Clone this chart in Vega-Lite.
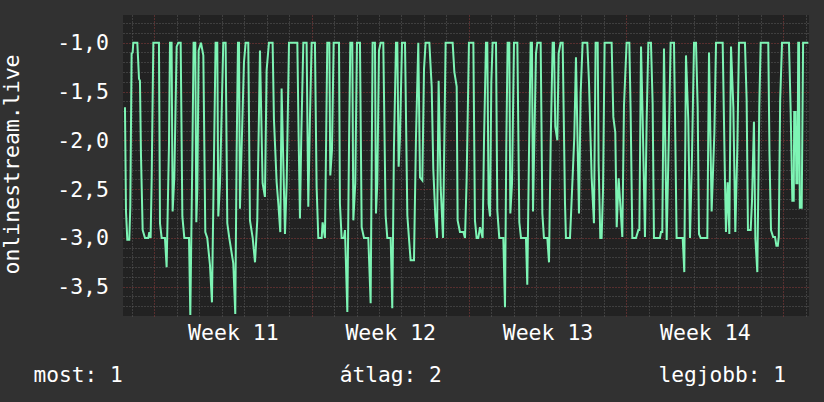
{
"$schema": "https://vega.github.io/schema/vega-lite/v6.json",
"width": 686,
"height": 301,
"autosize": {"type": "none"},
"padding": {"left": 123, "top": 15, "right": 15, "bottom": 86},
"background": "#313131",
"config": {
  "view": {"fill": "#222222", "stroke": null},
  "axis": {"labelFont": "DejaVu Sans Mono", "titleFont": "DejaVu Sans Mono", "labelColor": "#ffffff", "titleColor": "#ffffff", "labelFontSize": 21.5, "titleFontSize": 21.5, "titleFontWeight": "normal", "domain": false, "ticks": false, "tickSize": 0}
},
"data": {"values": [
{"hour":-31.3,"value":-1.66},{"hour":-30.2,"value":-2.73},{"hour":-28.8,"value":-3.02},{"hour":-26.7,"value":-3.02},{"hour":-25.6,"value":-2.68},{"hour":-24.2,"value":-1.11},{"hour":-23.1,"value":-1.10},{"hour":-22.4,"value":-1.0},{"hour":-18.1,"value":-1.0},{"hour":-16.3,"value":-1.37},{"hour":-15.3,"value":-1.39},{"hour":-14.2,"value":-2.15},{"hour":-12.4,"value":-2.92},{"hour":-9.9,"value":-3.0},{"hour":-6.4,"value":-3.0},{"hour":-5.3,"value":-2.94},{"hour":-3.9,"value":-3.0},{"hour":-2.8,"value":-2.41},{"hour":-1.0,"value":-1.0},{"hour":5.0,"value":-1.0},{"hour":6.1,"value":-2.85},{"hour":7.9,"value":-3.0},{"hour":11.4,"value":-3.0},{"hour":13.2,"value":-3.30},{"hour":15.7,"value":-2.05},{"hour":16.8,"value":-1.0},{"hour":18.5,"value":-1.0},{"hour":19.6,"value":-2.73},{"hour":21.4,"value":-2.38},{"hour":23.9,"value":-1.04},{"hour":25.7,"value":-1.0},{"hour":28.2,"value":-1.0},{"hour":30.0,"value":-2.78},{"hour":32.1,"value":-3.0},{"hour":37.1,"value":-3.0},{"hour":38.5,"value":-3.79},{"hour":40.6,"value":-2.22},{"hour":42.0,"value":-1.0},{"hour":43.8,"value":-1.0},{"hour":44.9,"value":-2.84},{"hour":46.0,"value":-2.50},{"hour":47.4,"value":-1.08},{"hour":49.9,"value":-1.0},{"hour":52.4,"value":-1.13},{"hour":54.5,"value":-2.94},{"hour":56.6,"value":-3.0},{"hour":59.5,"value":-3.28},{"hour":61.6,"value":-3.66},{"hour":63.4,"value":-2.43},{"hour":65.5,"value":-1.0},{"hour":67.3,"value":-1.0},{"hour":68.4,"value":-2.78},{"hour":70.2,"value":-2.44},{"hour":73.7,"value":-1.0},{"hour":76.2,"value":-1.0},{"hour":78.0,"value":-2.85},{"hour":80.1,"value":-3.0},{"hour":84.4,"value":-3.26},{"hour":86.5,"value":-3.78},{"hour":88.0,"value":-2.10},{"hour":89.4,"value":-1.0},{"hour":90.5,"value":-1.0},{"hour":91.5,"value":-2.70},{"hour":95.8,"value":-1.20},{"hour":97.6,"value":-1.0},{"hour":100.4,"value":-1.0},{"hour":102.2,"value":-2.82},{"hour":105.1,"value":-3.0},{"hour":107.6,"value":-3.25},{"hour":110.0,"value":-2.82},{"hour":112.9,"value":-1.08},{"hour":115.7,"value":-2.44},{"hour":118.2,"value":-2.58},{"hour":120.0,"value":-1.28},{"hour":122.5,"value":-1.0},{"hour":126.4,"value":-1.0},{"hour":127.8,"value":-1.78},{"hour":130.7,"value":-2.43},{"hour":132.5,"value":-2.65},{"hour":134.6,"value":-2.94},{"hour":136.0,"value":-1.47},{"hour":139.6,"value":-2.96},{"hour":141.4,"value":-2.44},{"hour":143.9,"value":-1.0},{"hour":152.8,"value":-1.0},{"hour":154.2,"value":-1.97},{"hour":155.6,"value":-2.80},{"hour":157.0,"value":-1.97},{"hour":159.2,"value":-1.0},{"hour":162.7,"value":-1.0},{"hour":164.5,"value":-2.68},{"hour":166.3,"value":-1.76},{"hour":168.1,"value":-1.0},{"hour":171.6,"value":-1.0},{"hour":173.4,"value":-2.48},{"hour":175.2,"value":-3.0},{"hour":178.8,"value":-3.0},{"hour":179.8,"value":-2.84},{"hour":182.3,"value":-3.0},{"hour":184.8,"value":-1.0},{"hour":187.0,"value":-1.0},{"hour":188.0,"value":-2.36},{"hour":189.8,"value":-2.10},{"hour":191.6,"value":-1.0},{"hour":197.3,"value":-1.0},{"hour":198.3,"value":-2.65},{"hour":200.1,"value":-3.0},{"hour":202.6,"value":-3.0},{"hour":203.7,"value":-2.92},{"hour":206.2,"value":-3.76},{"hour":208.0,"value":-2.05},{"hour":209.4,"value":-1.0},{"hour":211.5,"value":-1.0},{"hour":212.6,"value":-2.82},{"hour":214.7,"value":-2.44},{"hour":216.5,"value":-1.0},{"hour":219.7,"value":-1.0},{"hour":221.5,"value":-2.89},{"hour":224.0,"value":-3.0},{"hour":228.6,"value":-3.0},{"hour":231.1,"value":-3.67},{"hour":233.2,"value":-1.0},{"hour":235.7,"value":-1.0},{"hour":236.8,"value":-2.75},{"hour":238.2,"value":-2.44},{"hour":240.0,"value":-1.08},{"hour":241.8,"value":-1.0},{"hour":244.6,"value":-1.0},{"hour":247.1,"value":-2.77},{"hour":248.9,"value":-3.0},{"hour":252.5,"value":-3.0},{"hour":254.2,"value":-3.72},{"hour":256.0,"value":-2.07},{"hour":258.2,"value":-1.0},{"hour":259.6,"value":-1.0},{"hour":261.0,"value":-2.27},{"hour":262.4,"value":-1.98},{"hour":264.6,"value":-1.0},{"hour":267.8,"value":-1.0},{"hour":270.3,"value":-2.77},{"hour":272.0,"value":-3.0},{"hour":273.8,"value":-3.23},{"hour":277.4,"value":-3.23},{"hour":279.5,"value":-1.98},{"hour":282.0,"value":-1.0},{"hour":283.8,"value":-2.38},{"hour":286.3,"value":-2.41},{"hour":288.1,"value":-1.27},{"hour":289.8,"value":-1.0},{"hour":293.8,"value":-1.0},{"hour":296.3,"value":-1.45},{"hour":298.0,"value":-2.29},{"hour":300.2,"value":-2.78},{"hour":302.0,"value":-3.0},{"hour":303.7,"value":-1.39},{"hour":305.9,"value":-2.48},{"hour":308.4,"value":-3.0},{"hour":311.2,"value":-1.0},{"hour":318.7,"value":-1.0},{"hour":320.5,"value":-1.30},{"hour":323.0,"value":-1.45},{"hour":324.0,"value":-2.82},{"hour":326.5,"value":-2.94},{"hour":330.1,"value":-2.94},{"hour":331.9,"value":-3.0},{"hour":333.6,"value":-2.41},{"hour":336.1,"value":-1.0},{"hour":340.8,"value":-1.0},{"hour":342.5,"value":-2.82},{"hour":344.3,"value":-3.0},{"hour":346.1,"value":-3.0},{"hour":347.9,"value":-2.89},{"hour":350.7,"value":-3.0},{"hour":352.2,"value":-2.0},{"hour":354.3,"value":-1.0},{"hour":355.7,"value":-1.0},{"hour":357.1,"value":-2.65},{"hour":358.6,"value":-2.78},{"hour":360.0,"value":-1.40},{"hour":361.4,"value":-1.0},{"hour":365.0,"value":-1.0},{"hour":366.4,"value":-2.72},{"hour":368.5,"value":-3.0},{"hour":372.8,"value":-3.0},{"hour":374.6,"value":-3.71},{"hour":376.0,"value":-2.05},{"hour":377.4,"value":-1.0},{"hour":379.2,"value":-1.0},{"hour":380.3,"value":-2.75},{"hour":382.1,"value":-2.44},{"hour":384.2,"value":-1.0},{"hour":387.8,"value":-1.0},{"hour":389.9,"value":-2.84},{"hour":391.7,"value":-3.0},{"hour":397.0,"value":-3.0},{"hour":398.4,"value":-3.48},{"hour":400.2,"value":-2.15},{"hour":402.0,"value":-1.0},{"hour":403.4,"value":-1.0},{"hour":404.5,"value":-2.73},{"hour":407.7,"value":-1.11},{"hour":409.1,"value":-1.0},{"hour":412.7,"value":-1.0},{"hour":414.5,"value":-2.75},{"hour":416.2,"value":-3.0},{"hour":419.8,"value":-3.0},{"hour":421.6,"value":-3.25},{"hour":423.4,"value":-2.02},{"hour":425.5,"value":-1.0},{"hour":426.9,"value":-1.0},{"hour":428.3,"value":-1.86},{"hour":430.5,"value":-2.0},{"hour":431.9,"value":-1.11},{"hour":434.0,"value":-1.0},{"hour":436.2,"value":-1.0},{"hour":438.7,"value":-2.65},{"hour":439.7,"value":-3.0},{"hour":444.0,"value":-3.0},{"hour":445.4,"value":-2.70},{"hour":448.6,"value":-1.97},{"hour":450.4,"value":-1.15},{"hour":453.6,"value":-2.75},{"hour":455.4,"value":-1.52},{"hour":457.5,"value":-1.0},{"hour":462.5,"value":-1.0},{"hour":464.3,"value":-1.40},{"hour":467.2,"value":-2.39},{"hour":469.6,"value":-2.85},{"hour":471.4,"value":-1.0},{"hour":473.6,"value":-1.0},{"hour":474.6,"value":-2.24},{"hour":476.4,"value":-3.0},{"hour":477.8,"value":-3.0},{"hour":479.3,"value":-2.51},{"hour":481.0,"value":-1.0},{"hour":488.5,"value":-1.0},{"hour":490.3,"value":-1.76},{"hour":492.4,"value":-1.92},{"hour":493.9,"value":-2.89},{"hour":496.0,"value":-2.39},{"hour":499.9,"value":-2.99},{"hour":501.7,"value":-1.64},{"hour":504.5,"value":-1.0},{"hour":507.4,"value":-1.0},{"hour":508.8,"value":-1.71},{"hour":510.6,"value":-3.0},{"hour":514.5,"value":-3.0},{"hour":517.0,"value":-2.92},{"hour":518.1,"value":-2.92},{"hour":519.9,"value":-1.04},{"hour":521.6,"value":-1.76},{"hour":524.1,"value":-2.99},{"hour":525.9,"value":-1.80},{"hour":527.7,"value":-1.0},{"hour":530.5,"value":-1.0},{"hour":532.3,"value":-1.62},{"hour":533.7,"value":-3.0},{"hour":540.1,"value":-3.0},{"hour":541.2,"value":-2.94},{"hour":542.6,"value":-2.94},{"hour":544.4,"value":-1.06},{"hour":547.3,"value":-3.02},{"hour":550.1,"value":-1.73},{"hour":551.5,"value":-1.0},{"hour":555.1,"value":-1.0},{"hour":556.5,"value":-1.97},{"hour":557.9,"value":-3.0},{"hour":564.4,"value":-3.0},{"hour":566.1,"value":-3.35},{"hour":567.9,"value":-1.13},{"hour":570.4,"value":-1.80},{"hour":572.2,"value":-3.0},{"hour":574.3,"value":-2.17},{"hour":576.5,"value":-1.0},{"hour":578.6,"value":-1.0},{"hour":580.4,"value":-1.66},{"hour":581.8,"value":-2.96},{"hour":583.6,"value":-3.0},{"hour":590.7,"value":-3.0},{"hour":592.5,"value":-1.10},{"hour":595.3,"value":-2.73},{"hour":598.2,"value":-1.93},{"hour":600.0,"value":-1.0},{"hour":607.1,"value":-1.0},{"hour":609.6,"value":-2.43},{"hour":610.6,"value":-2.94},{"hour":612.4,"value":-2.43},{"hour":614.2,"value":-2.96},{"hour":616.0,"value":-1.04},{"hour":618.5,"value":-1.66},{"hour":620.6,"value":-2.94},{"hour":622.7,"value":-2.10},{"hour":624.5,"value":-1.0},{"hour":630.9,"value":-1.0},{"hour":632.7,"value":-1.59},{"hour":634.1,"value":-2.92},{"hour":637.0,"value":-2.92},{"hour":638.4,"value":-2.63},{"hour":640.5,"value":-1.81},{"hour":642.0,"value":-3.0},{"hour":644.1,"value":-3.35},{"hour":646.2,"value":-1.66},{"hour":647.7,"value":-1.0},{"hour":655.8,"value":-1.0},{"hour":657.1,"value":-2.14},{"hour":658.7,"value":-2.92},{"hour":661.0,"value":-2.99},{"hour":663.0,"value":-2.99},{"hour":664.5,"value":-3.08},{"hour":666.0,"value":-3.08},{"hour":667.0,"value":-2.99},{"hour":668.5,"value":-1.59},{"hour":670.5,"value":-1.0},{"hour":677.9,"value":-1.0},{"hour":679.7,"value":-1.69},{"hour":681.5,"value":-2.62},{"hour":683.0,"value":-2.62},{"hour":683.5,"value":-1.71},{"hour":685.0,"value":-1.71},{"hour":685.8,"value":-2.44},{"hour":687.0,"value":-2.44},{"hour":687.8,"value":-1.0},{"hour":688.6,"value":-1.0},{"hour":689.5,"value":-2.69},{"hour":691.5,"value":-2.69},{"hour":693.0,"value":-1.0},{"hour":698.6,"value":-1.0}
]},
"resolve": {"axis": {"x": "independent", "y": "independent"}},
"layer": [
  {
    "mark": {"type": "line", "opacity": 0},
    "encoding": {
      "x": {"field": "hour", "type": "quantitative", "scale": {"domain": [-33.4, 699.3], "nice": false, "zero": false},
        "axis": {"orient": "bottom", "values": [-24, 24, 48, 72, 96, 120, 144, 192, 216, 240, 264, 288, 312, 360, 384, 408, 432, 456, 480, 528, 552, 576, 600, 624, 648, 696], "labels": false, "title": null, "grid": true, "gridColor": "#5c5c5c", "gridDash": [1, 2], "gridWidth": 1}},
      "y": {"field": "value", "type": "quantitative", "scale": {"domain": [-3.8, -0.716], "nice": false, "zero": false},
        "axis": {"orient": "left", "values": [-0.8, -0.9, -1.1, -1.2, -1.3, -1.4, -1.6, -1.7, -1.8, -1.9, -2.1, -2.2, -2.3, -2.4, -2.6, -2.7, -2.8, -2.9, -3.1, -3.2, -3.3, -3.4, -3.6, -3.7], "labels": false, "title": null, "grid": true, "gridColor": "#5c5c5c", "gridDash": [1, 2], "gridWidth": 1}}
    }
  },
  {
    "mark": {"type": "line", "opacity": 0},
    "encoding": {
      "x": {"field": "hour", "type": "quantitative", "scale": {"domain": [-33.4, 699.3], "nice": false, "zero": false},
        "axis": {"orient": "bottom", "values": [0, 168, 336, 504, 672], "labels": false, "title": null, "grid": true, "gridColor": "#8f3c3c", "gridDash": [1, 2], "gridWidth": 1}},
      "y": {"field": "value", "type": "quantitative", "scale": {"domain": [-3.8, -0.716], "nice": false, "zero": false},
        "axis": {"orient": "left", "values": [-1, -1.5, -2, -2.5, -3, -3.5], "grid": true, "gridColor": "#8f3c3c", "gridDash": [1, 2], "gridWidth": 1,
          "labelExpr": "'-' + replace(format(abs(datum.value), '.1f'), '.', ',')", "labelPadding": 14.5, "labelBaseline": "middle", "labelOffset": 1,
          "title": "onlinestream.live", "titleX": -104.5, "titleY": 149, "titleAngle": -90, "titleAlign": "center", "titleBaseline": "alphabetic"}}
    }
  },
  {
    "mark": {"type": "line", "color": "#7df4b4", "strokeWidth": 2, "clip": true},
    "encoding": {
      "x": {"field": "hour", "type": "quantitative", "scale": {"domain": [-33.4, 699.3], "nice": false, "zero": false},
        "axis": {"orient": "bottom", "values": [84, 252, 420, 588], "grid": false, "labelExpr": "'Week ' + (11 + floor(datum.value / 168))", "labelPadding": 23.4, "labelBaseline": "alphabetic", "labelAlign": "center", "labelFlush": false,
          "title": "most: 1\u00a0\u00a0\u00a0\u00a0\u00a0\u00a0\u00a0\u00a0\u00a0\u00a0\u00a0\u00a0\u00a0\u00a0\u00a0\u00a0\u00a0átlag: 2\u00a0\u00a0\u00a0\u00a0\u00a0\u00a0\u00a0\u00a0\u00a0\u00a0\u00a0\u00a0\u00a0\u00a0\u00a0\u00a0\u00a0legjobb: 1",
          "titleFontSize": 21.2, "titleX": -90, "titleY": 65.4, "titleAlign": "left", "titleBaseline": "alphabetic"}},
      "y": {"field": "value", "type": "quantitative", "scale": {"domain": [-3.8, -0.716], "nice": false, "zero": false}, "axis": null}
    }
  }
]
}
